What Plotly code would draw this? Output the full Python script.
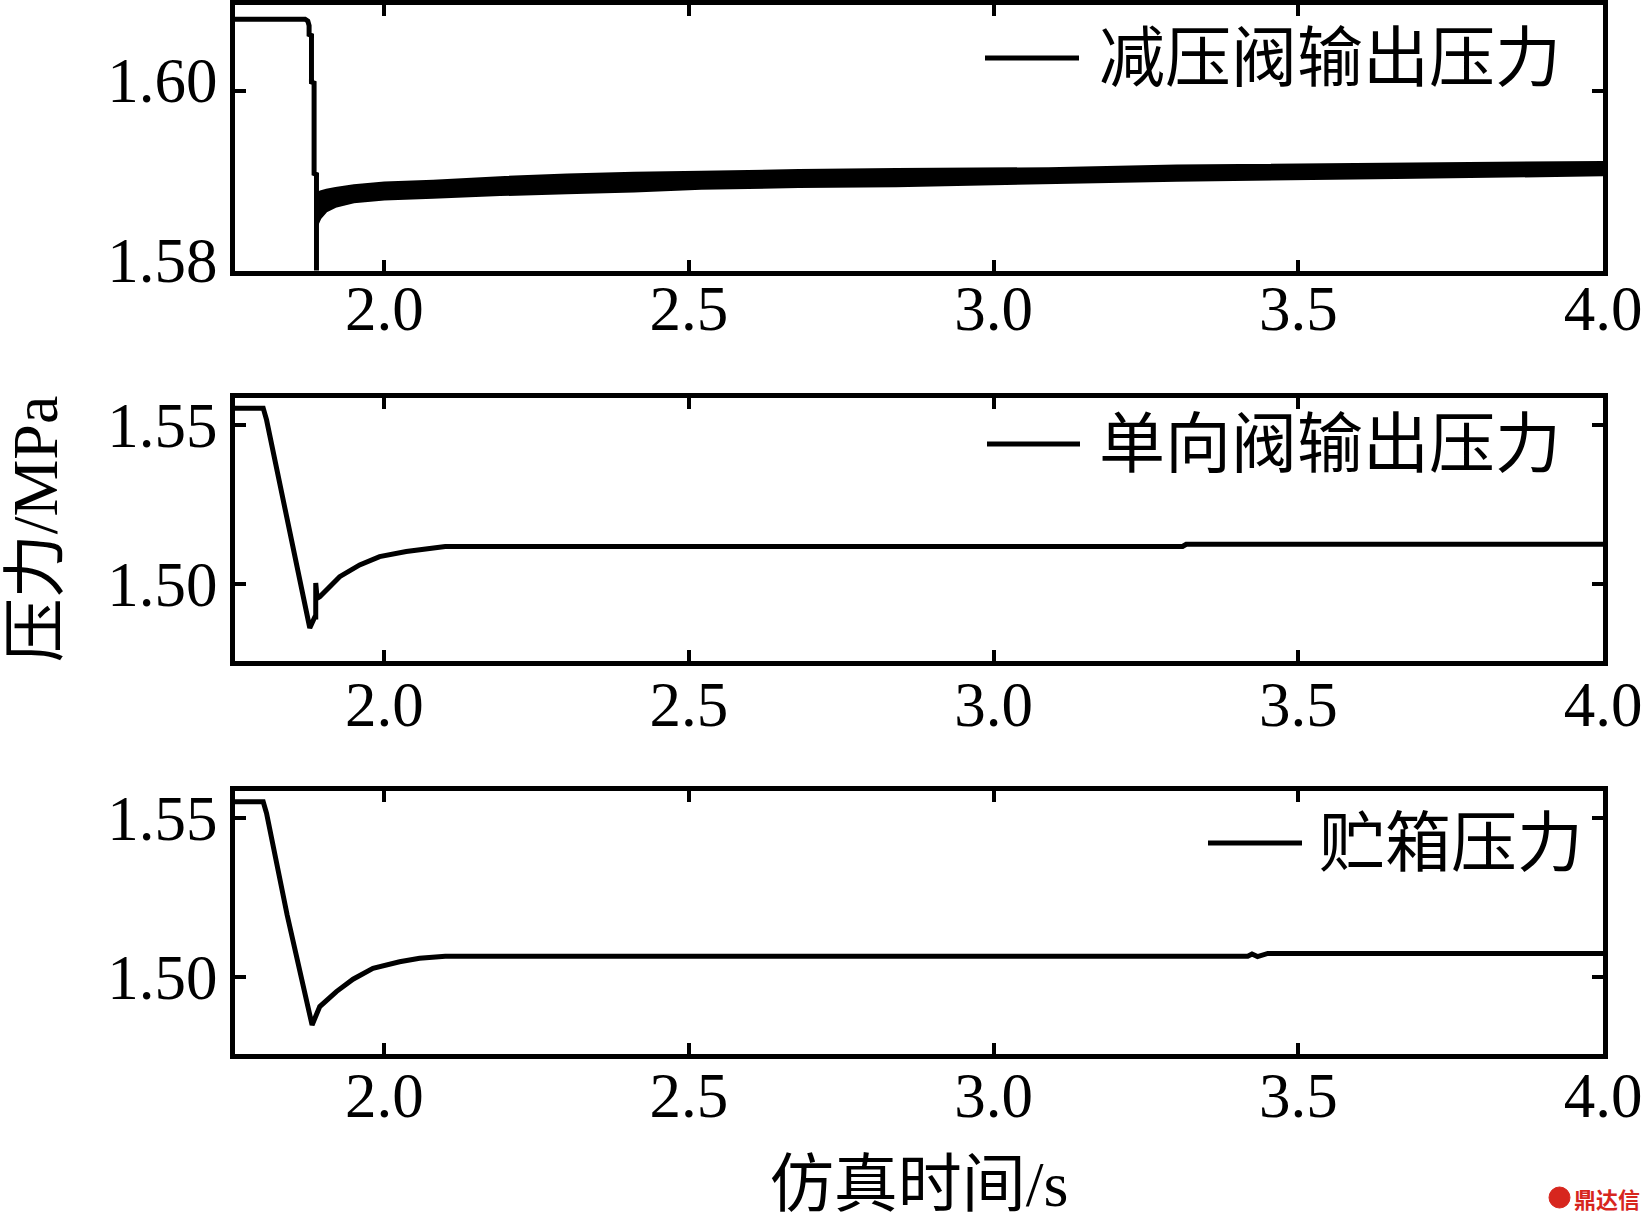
import plotly.graph_objects as go

# ---------------- data ----------------
# Panel 1: 减压阀输出压力 (pressure-reducing valve outlet), transient part
t_prv = [1.75, 1.8700, 1.8745, 1.8766, 1.8766, 1.8805, 1.8805, 1.8848, 1.8848, 1.8887, 1.8887]
p_prv = [1.6080, 1.6080, 1.6078, 1.6073, 1.6063, 1.6062, 1.6010, 1.6009, 1.5908, 1.5907, 1.5790]
# Panel 1: noisy steady part, drawn as its upper / lower envelope
t_prv_band = [1.889, 1.895, 1.905, 1.920, 1.950, 2.000, 2.080, 2.190, 2.300, 2.410,
              2.520, 2.680, 2.840, 3.090, 3.300, 3.660, 4.000]
p_prv_upper = [1.5886, 1.5888, 1.5890, 1.5892, 1.5895, 1.5898, 1.5900, 1.5904, 1.5907, 1.5909,
               1.5910, 1.5912, 1.5913, 1.5914, 1.5917, 1.5919, 1.5921]
p_prv_lower = [1.5849, 1.5858, 1.5866, 1.5871, 1.5876, 1.5879, 1.5881, 1.5884, 1.5886, 1.5888,
               1.5891, 1.5893, 1.5894, 1.5897, 1.5900, 1.5903, 1.5906]

# Panel 2: 单向阀输出压力 (check valve outlet)
t_cv = [1.75, 1.8013, 1.8068, 1.8406, 1.8777, 1.8860, 1.8875, 1.8875, 1.8897, 1.8941,
        1.9268, 1.9596, 1.9923, 2.0360, 2.0688, 2.0934, 2.1000, 3.3100, 3.3160, 4.0]
p_cv = [1.5553, 1.5553, 1.5516, 1.5195, 1.4862, 1.4896, 1.4896, 1.5003, 1.4955, 1.4960,
        1.5023, 1.5060, 1.5086, 1.5102, 1.5109, 1.5117, 1.5118, 1.5118, 1.5125, 1.5125]

# Panel 3: 贮箱压力 (tank pressure)
t_tank = [1.75, 1.8013, 1.8068, 1.8406, 1.8815, 1.8941, 1.9214, 1.9487, 1.9814, 2.0251,
          2.0579, 2.0961, 2.1000, 3.4170, 3.4240, 3.4330, 3.4500, 4.0]
p_tank = [1.5551, 1.5551, 1.5515, 1.5195, 1.4849, 1.4907, 1.4954, 1.4993, 1.5027, 1.5048,
          1.5059, 1.5064, 1.5065, 1.5065, 1.5072, 1.5064, 1.5074, 1.5074]

x_ticks = [2.0, 2.5, 3.0, 3.5, 4.0]
y_ticks_1 = [1.58, 1.60]
y_ticks_23 = [1.50, 1.55]

names = ["减压阀输出压力", "单向阀输出压力", "贮箱压力"]
x_title = "仿真时间/s"
y_title = "压力/MPa"

# ---------------- figure ----------------
FONT = "Liberation Serif, 'Noto Sans CJK SC', serif"
CJK = "'Noto Sans CJK SC', sans-serif"
W, H = 1647, 1220

fig = go.Figure()
fig.add_trace(go.Scatter(x=t_prv_band, y=p_prv_lower, mode="lines",
                         line=dict(color="black", width=2), showlegend=False,
                         xaxis="x", yaxis="y", hoverinfo="skip"))
fig.add_trace(go.Scatter(x=t_prv_band, y=p_prv_upper, mode="lines", fill="tonexty",
                         fillcolor="black", line=dict(color="black", width=2),
                         name=names[0], showlegend=False, xaxis="x", yaxis="y"))
fig.add_trace(go.Scatter(x=t_prv, y=p_prv, mode="lines", name=names[0],
                         line=dict(color="black", width=5), showlegend=False,
                         xaxis="x", yaxis="y"))
fig.add_trace(go.Scatter(x=t_cv, y=p_cv, mode="lines", name=names[1],
                         line=dict(color="black", width=5), showlegend=False,
                         xaxis="x2", yaxis="y2"))
fig.add_trace(go.Scatter(x=t_tank, y=p_tank, mode="lines", name=names[2],
                         line=dict(color="black", width=5), showlegend=False,
                         xaxis="x3", yaxis="y3"))

ml, mr, mt, mb = 235, 44, 4, 166
ph = H - mt - mb
pw = W - ml - mr


def py(y_px):  # pixel row -> paper y
    return (H - mb - y_px) / ph


def px(x_px):  # pixel column -> paper x
    return (x_px - ml) / pw


axis_common = dict(
    showline=True, linewidth=5, linecolor="black", mirror="ticks",
    ticks="inside", ticklen=11, tickwidth=4, tickcolor="black",
    showgrid=False, zeroline=False, automargin=False,
    tickfont=dict(family=FONT, size=63, color="black"),
)

xcommon = dict(axis_common, range=[1.755, 4.0], tickvals=x_ticks, tickformat=".1f")
ycommon = dict(axis_common, tickformat=".2f", ticklabelstandoff=0)

dom1 = [py(270.5), min(1.0, py(4.5))]
dom2 = [py(660.5), py(397.5)]
dom3 = [max(0.0, py(1053.5)), py(790.5)]

fig.update_layout(
    width=W, height=H,
    margin=dict(l=ml, r=mr, t=mt, b=mb),
    paper_bgcolor="white", plot_bgcolor="white",
    showlegend=False,
    xaxis=dict(xcommon, anchor="y", domain=[0, 1], ticklabelstandoff=-21),
    xaxis2=dict(xcommon, anchor="y2", domain=[0, 1], matches="x", ticklabelstandoff=-15),
    xaxis3=dict(xcommon, anchor="y3", domain=[0, 1], matches="x", ticklabelstandoff=-17,
                title=dict(text=x_title, font=dict(family=FONT, size=64, color="black"),
                           standoff=56)),
    yaxis=dict(ycommon, anchor="x", domain=dom1, range=[1.58, 1.60964], tickvals=y_ticks_1,
               ticklabelshift=-11),
    yaxis2=dict(ycommon, anchor="x2", domain=dom2, range=[1.47594, 1.55865], tickvals=y_ticks_23,
                title=dict(text=y_title, font=dict(family=FONT, size=64, color="black"),
                           standoff=60)),
    yaxis3=dict(ycommon, anchor="x3", domain=dom3, range=[1.47594, 1.55865], tickvals=y_ticks_23),
)

# legend-like keys (line sample + label) in each panel
legend_pos = [  # (line x0, line x1, y, text x) in pixels of the reference
    (985, 1079, 58, 1097),
    (987, 1080, 444, 1097),
    (1208, 1302, 843, 1317),
]
for (x0, x1, yy, xt), name in zip(legend_pos, names):
    fig.add_shape(type="line", xref="paper", yref="paper",
                  x0=px(x0), x1=px(x1), y0=py(yy), y1=py(yy),
                  line=dict(color="black", width=5))
    fig.add_annotation(xref="paper", yref="paper", x=px(xt), y=py(yy - 6),
                       xanchor="left", yanchor="middle", showarrow=False,
                       text=name, font=dict(family=CJK, size=66, color="black"))

# watermark
fig.add_shape(type="circle", xref="paper", yref="paper",
              x0=px(1549), x1=px(1570), y0=py(1208), y1=py(1187),
              fillcolor="#d7261e", line=dict(color="#d7261e", width=1))
fig.add_annotation(xref="paper", yref="paper", x=px(1572), y=py(1198),
                   xanchor="left", yanchor="middle", showarrow=False,
                   text="<b>鼎达信</b>", font=dict(family=CJK, size=22, color="#d7261e"))

fig.write_html("out.html", config={"displayModeBar": False},
               post_script="document.body.style.margin='0';document.body.style.overflow='hidden';")
